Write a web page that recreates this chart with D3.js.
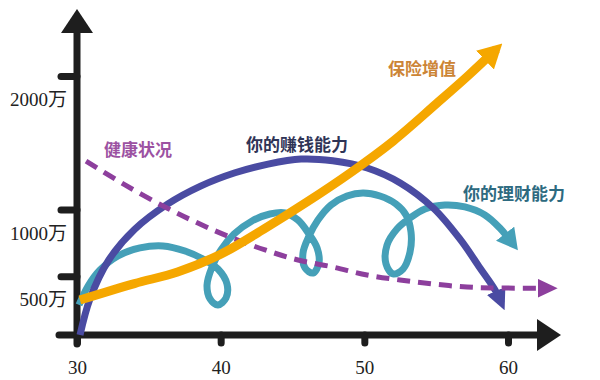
<!DOCTYPE html>
<html>
<head>
<meta charset="utf-8">
<script src="https://cdn.jsdelivr.net/npm/d3@7/dist/d3.min.js"></script>
<style>
  html, body { margin: 0; padding: 0; background: #ffffff; }
  svg { display: block; }
</style>
</head>
<body>
<script>
// ---------- data ----------
const xTicks = [30, 40, 50, 60];
const yTicks = [500, 1000, 2000];
const yTickLabels = ["500万", "1000万", "2000万"];
const seriesNames = ["保险增值", "健康状况", "你的赚钱能力", "你的理财能力"];

// 保险增值 (insurance value growth)
const insuranceAges   = [30.2, 34, 37, 40, 43, 46, 49, 52, 55, 57.2, 59.2];
const insuranceValues = [322, 445, 532, 665, 853, 1056, 1273, 1512, 1791, 2000, 2202];

// 健康状况 (health)
const healthAges   = [30.63, 33.34, 36.26, 38.56, 40.65, 43.09, 45.38, 47.82, 50.19, 52.48, 54.78, 57.15, 59.44, 62.9];
const healthValues = [1363, 1184, 1011, 891, 794, 697, 622, 569, 509, 472, 442, 419, 412, 410];

// 你的赚钱能力 (earning ability)
const earnAges   = [30.21, 30.9, 32.2, 34, 36.3, 38.6, 41, 43.3, 45.6, 47.8, 50.2, 52.5, 54.8, 56.7, 58.05, 59.1, 59.54];
const earnValues = [60, 330, 620, 850, 1040, 1175, 1275, 1340, 1378, 1365, 1311, 1199, 1011, 772, 562, 397, 301];

// 你的理财能力 (money management ability, looping)
const financeAges = [30.14, 30.77, 31.6, 32.85, 34.38, 35.99, 37.52, 38.77, 39.81, 40.44, 40.37, 39.81, 39.26, 39.05, 39.4, 40.02, 40.93, 42.18, 43.43, 44.48,
                     45.38, 46.15, 46.71, 46.84, 46.43, 45.87, 45.73, 46.15, 46.77, 47.68, 48.79, 49.91, 51.09, 52.2, 52.9, 53.25, 53.18, 52.69, 52.0, 51.51,
                     51.58, 52.27, 53.18, 54.22, 55.61, 57.0, 58.39, 59.43, 60.35];
const financeValues = [285, 427, 547, 652, 712, 727, 689, 629, 554, 442, 337, 285, 330, 434, 569, 697, 816, 914, 966, 974,
                       921, 816, 712, 599, 524, 562, 674, 801, 921, 1034, 1101, 1124, 1101, 1041, 959, 831, 682, 554, 517, 592,
                       734, 854, 936, 1004, 1034, 1019, 959, 861, 742];

// ---------- drawing ----------
const W = 600, H = 380;
const svg = d3.select("body").append("svg").attr("width", W).attr("height", H);
svg.append("rect").attr("width", W).attr("height", H).attr("fill", "#ffffff");

const x = d3.scaleLinear().domain([30, 60]).range([77, 508]);
const y = d3.scaleLinear().domain([0, 2000]).range([343, 76]);
const axisY = 335;
const axisColor = "#1e1e1e";

const defs = svg.append("defs");
function marker(id, color, len, wid, inset) {
  defs.append("marker")
    .attr("id", id)
    .attr("markerUnits", "userSpaceOnUse")
    .attr("viewBox", `0 0 ${len} ${wid}`)
    .attr("markerWidth", len).attr("markerHeight", wid)
    .attr("refX", len - inset).attr("refY", wid / 2)
    .attr("orient", "auto")
    .append("path")
    .attr("d", `M0,0 L${len},${wid / 2} L0,${wid} Z`)
    .attr("fill", color);
}

const colors = {
  insurance: "#f5a700",
  health: "#8d3f9d",
  earn: "#4a4ba2",
  finance: "#45a0b8"
};
marker("m-ins", colors.insurance, 24, 26, 8);
marker("m-health", colors.health, 20, 19, 8);
marker("m-earn", colors.earn, 21, 20, 8);
marker("m-fin", colors.finance, 21, 23, 8);

// Axes
const yAxisG = svg.append("g").attr("transform", `translate(${x(30)},0)`);
yAxisG.call(d3.axisLeft(y).tickValues(yTicks).tickSize(16).tickPadding(0)
  .tickFormat((d, i) => yTickLabels[i]));
yAxisG.select(".domain").remove();
yAxisG.selectAll(".tick line")
  .attr("stroke", axisColor).attr("stroke-width", 7).attr("stroke-linecap", "round");
yAxisG.selectAll(".tick text")
  .attr("x", -10).attr("y", 23).attr("dy", "0.35em")
  .attr("fill", "#222")
  .style("font-family", "'Liberation Serif', 'Noto Sans CJK SC', serif")
  .style("font-size", "19px");

const xAxisG = svg.append("g").attr("transform", `translate(0,${axisY})`);
xAxisG.call(d3.axisBottom(x).tickValues(xTicks).tickSize(8).tickFormat(d => d));
xAxisG.select(".domain").remove();
xAxisG.selectAll(".tick line")
  .attr("stroke", axisColor).attr("stroke-width", 7).attr("stroke-linecap", "round");
xAxisG.selectAll(".tick text")
  .attr("y", 32).attr("dy", "0.35em")
  .attr("fill", "#222")
  .style("font-family", "'Liberation Serif', serif")
  .style("font-size", "19px");

// axis lines with arrowheads
svg.append("line").attr("x1", 59).attr("x2", 540).attr("y1", axisY).attr("y2", axisY)
  .attr("stroke", axisColor).attr("stroke-width", 7).attr("stroke-linecap", "round");
svg.append("path").attr("d", `M537,${axisY - 16} L561,${axisY} L537,${axisY + 16} Z`).attr("fill", axisColor);
svg.append("line").attr("x1", x(30)).attr("x2", x(30)).attr("y1", 344).attr("y2", 30)
  .attr("stroke", axisColor).attr("stroke-width", 7).attr("stroke-linecap", "round");
svg.append("path").attr("d", `M${x(30) - 16},33 L${x(30)},9 L${x(30) + 16},33 Z`).attr("fill", axisColor);

const line = d3.line().x(d => x(d[0])).y(d => y(d[1])).curve(d3.curveCatmullRom.alpha(0.5));
const zip = (a, b) => a.map((v, i) => [v, b[i]]);

// teal (bottom)
svg.append("path").datum(zip(financeAges, financeValues))
  .attr("d", line).attr("fill", "none")
  .attr("stroke", colors.finance).attr("stroke-width", 7)
  .attr("stroke-linejoin", "round")
  .attr("marker-end", "url(#m-fin)");

// blue
svg.append("path").datum(zip(earnAges, earnValues))
  .attr("d", line).attr("fill", "none")
  .attr("stroke", colors.earn).attr("stroke-width", 7)
  .attr("marker-end", "url(#m-earn)");

// purple dashed
svg.append("path").datum(zip(healthAges, healthValues))
  .attr("d", line).attr("fill", "none")
  .attr("stroke", colors.health).attr("stroke-width", 5)
  .attr("stroke-dasharray", "13 8")
  .attr("marker-end", "url(#m-health)");

// orange (top)
svg.append("path").datum(zip(insuranceAges, insuranceValues))
  .attr("d", line).attr("fill", "none")
  .attr("stroke", colors.insurance).attr("stroke-width", 9)
  .attr("marker-end", "url(#m-ins)");

// series labels
const labelFont = "'Noto Sans CJK SC', 'Noto Sans CJK TC', sans-serif";
const labelSpecs = [
  { name: seriesNames[0], cx: 422, cy: 67, color: "#cc8536" },
  { name: seriesNames[1], cx: 138, cy: 148, color: "#9c52a2" },
  { name: seriesNames[2], cx: 297, cy: 143, color: "#2f3456" },
  { name: seriesNames[3], cx: 514, cy: 192, color: "#2d6a80" }
];
svg.selectAll("text.series").data(labelSpecs).enter().append("text")
  .attr("class", "series")
  .attr("x", d => d.cx).attr("y", d => d.cy)
  .attr("text-anchor", "middle").attr("dominant-baseline", "central")
  .attr("fill", d => d.color)
  .style("font-family", labelFont)
  .style("font-size", "17px")
  .style("font-weight", "700")
  .text(d => d.name);
</script>
</body>
</html>
